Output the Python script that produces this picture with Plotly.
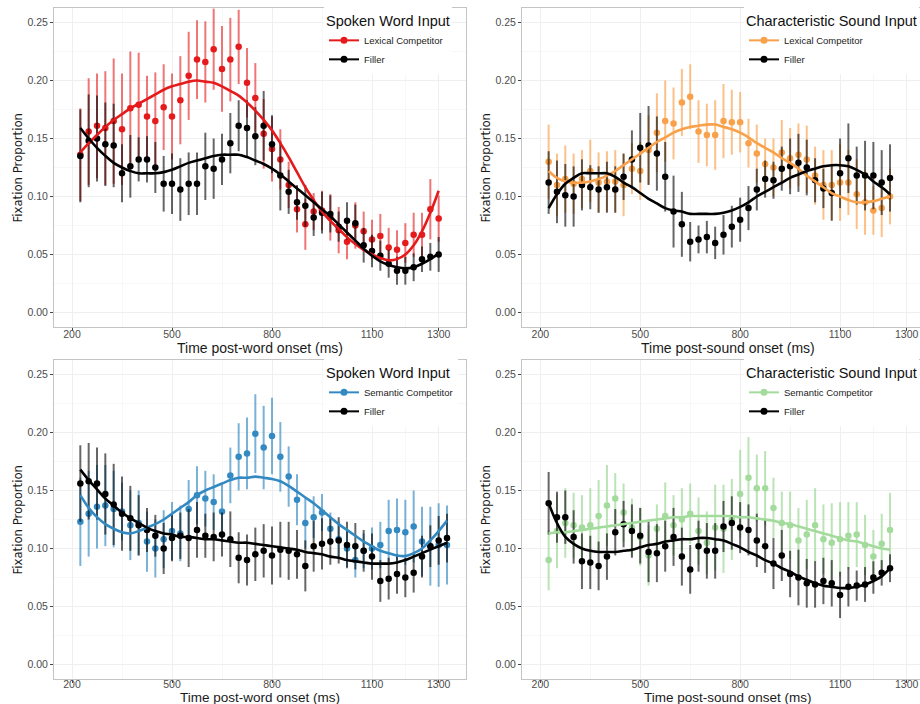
import plotly.graph_objects as go

# ---------------- data ----------------
x_word = list(range(225, 1301, 25))      # 44 time bins (panel 1)
x_word_sem = list(range(225, 1326, 25))  # 45 time bins (panel 3)
x_sound = list(range(225, 1251, 25))     # 42 time bins (panels 2, 4)

# Panel 1: Spoken word, lexical competitor vs filler
lex_word = [0.136, 0.156, 0.161, 0.159, 0.165, 0.158, 0.176, 0.179, 0.169, 0.165, 0.177, 0.169, 0.183, 0.204,
            0.218, 0.216, 0.227, 0.210, 0.218, 0.229, 0.198, 0.185, 0.154, 0.141, 0.132, 0.110, 0.089, 0.076,
            0.087, 0.088, 0.082, 0.071, 0.061, 0.075, 0.070, 0.063, 0.066, 0.056, 0.054, 0.060, 0.067, 0.067,
            0.089, 0.081]
lex_word_err = [0.040, 0.046, 0.045, 0.049, 0.054, 0.048, 0.049, 0.045, 0.035, 0.042, 0.037, 0.037, 0.038, 0.038,
                0.034, 0.035, 0.035, 0.037, 0.036, 0.032, 0.030, 0.030, 0.030, 0.028, 0.026, 0.020, 0.020, 0.022,
                0.016, 0.017, 0.020, 0.020, 0.015, 0.020, 0.017, 0.017, 0.019, 0.017, 0.017, 0.017, 0.019, 0.019,
                0.026, 0.020]
lex_word_fit = [0.138, 0.146, 0.153, 0.160, 0.166, 0.171, 0.176, 0.180, 0.184, 0.188, 0.192, 0.195, 0.197, 0.199,
                0.200, 0.199, 0.198, 0.195, 0.191, 0.187, 0.181, 0.174, 0.166, 0.157, 0.146, 0.134, 0.121, 0.108,
                0.097, 0.087, 0.079, 0.072, 0.065, 0.059, 0.054, 0.050, 0.047, 0.045, 0.046, 0.050, 0.058, 0.070,
                0.086, 0.105]
fil_word1 = [0.135, 0.148, 0.150, 0.145, 0.144, 0.120, 0.126, 0.132, 0.132, 0.125, 0.111, 0.111, 0.106, 0.111,
             0.111, 0.126, 0.124, 0.132, 0.146, 0.161, 0.159, 0.152, 0.161, 0.145, 0.118, 0.104, 0.095, 0.092,
             0.082, 0.086, 0.085, 0.074, 0.079, 0.077, 0.058, 0.053, 0.049, 0.042, 0.036, 0.036, 0.039, 0.046,
             0.048, 0.050]
fil_word1_err = [0.040, 0.040, 0.037, 0.036, 0.036, 0.025, 0.027, 0.019, 0.020, 0.022, 0.024, 0.026, 0.027, 0.027,
                 0.027, 0.029, 0.026, 0.022, 0.026, 0.022, 0.024, 0.025, 0.030, 0.025, 0.030, 0.019, 0.015, 0.018,
                 0.016, 0.018, 0.016, 0.013, 0.016, 0.016, 0.015, 0.014, 0.013, 0.012, 0.012, 0.012, 0.012, 0.011,
                 0.012, 0.015]
fil_word1_fit = [0.159, 0.150, 0.142, 0.135, 0.129, 0.125, 0.122, 0.120, 0.120, 0.120, 0.121, 0.123, 0.126, 0.129,
                 0.131, 0.133, 0.135, 0.136, 0.136, 0.136, 0.134, 0.131, 0.128, 0.124, 0.119, 0.113, 0.107, 0.101,
                 0.095, 0.089, 0.083, 0.076, 0.069, 0.062, 0.055, 0.049, 0.044, 0.041, 0.039, 0.038, 0.039, 0.042,
                 0.046, 0.051]

# Panel 2: Characteristic sound, lexical competitor vs filler
lex_sound = [0.130, 0.110, 0.115, 0.111, 0.115, 0.122, 0.112, 0.113, 0.113, 0.110, 0.124, 0.122, 0.140, 0.155,
             0.165, 0.163, 0.181, 0.186, 0.156, 0.153, 0.153, 0.165, 0.164, 0.164, 0.146, 0.137, 0.128, 0.125,
             0.138, 0.133, 0.136, 0.132, 0.118, 0.110, 0.110, 0.112, 0.112, 0.102, 0.095, 0.088, 0.090, 0.100]
lex_sound_err = [0.032, 0.027, 0.029, 0.026, 0.025, 0.027, 0.026, 0.026, 0.027, 0.027, 0.022, 0.025, 0.030, 0.034,
                 0.035, 0.031, 0.029, 0.028, 0.027, 0.027, 0.030, 0.032, 0.028, 0.026, 0.021, 0.025, 0.022, 0.025,
                 0.028, 0.026, 0.027, 0.029, 0.025, 0.030, 0.030, 0.033, 0.028, 0.030, 0.028, 0.021, 0.025, 0.024]
lex_sound_fit = [0.122, 0.116, 0.113, 0.112, 0.112, 0.113, 0.115, 0.118, 0.122, 0.127, 0.132, 0.137, 0.142, 0.147,
                 0.151, 0.155, 0.158, 0.160, 0.161, 0.162, 0.162, 0.160, 0.158, 0.155, 0.151, 0.146, 0.142, 0.138,
                 0.133, 0.129, 0.124, 0.118, 0.113, 0.108, 0.103, 0.100, 0.097, 0.095, 0.095, 0.096, 0.098, 0.100]
fil_sound1 = [0.112, 0.104, 0.101, 0.100, 0.110, 0.108, 0.106, 0.108, 0.106, 0.117, 0.132, 0.142, 0.144, 0.137,
              0.117, 0.087, 0.076, 0.061, 0.063, 0.065, 0.060, 0.067, 0.074, 0.080, 0.090, 0.106, 0.115, 0.114,
              0.124, 0.126, 0.129, 0.125, 0.114, 0.107, 0.103, 0.120, 0.133, 0.118, 0.118, 0.118, 0.112, 0.116]
fil_sound1_err = [0.027, 0.027, 0.027, 0.026, 0.022, 0.019, 0.020, 0.022, 0.020, 0.020, 0.025, 0.030, 0.034, 0.032,
                  0.030, 0.031, 0.028, 0.017, 0.012, 0.014, 0.014, 0.017, 0.018, 0.019, 0.019, 0.018, 0.016, 0.016,
                  0.019, 0.024, 0.025, 0.024, 0.019, 0.017, 0.024, 0.030, 0.030, 0.025, 0.030, 0.029, 0.028, 0.029]
fil_sound1_fit = [0.090, 0.102, 0.111, 0.116, 0.120, 0.120, 0.120, 0.120, 0.117, 0.112, 0.108, 0.103, 0.098, 0.094,
                  0.090, 0.088, 0.087, 0.085, 0.085, 0.085, 0.085, 0.086, 0.088, 0.091, 0.095, 0.100, 0.104, 0.108,
                  0.112, 0.116, 0.119, 0.122, 0.124, 0.126, 0.127, 0.127, 0.126, 0.123, 0.119, 0.113, 0.108, 0.102]

# Panel 3: Spoken word, semantic competitor vs filler
sem_word = [0.123, 0.130, 0.136, 0.137, 0.134, 0.132, 0.120, 0.122, 0.106, 0.100, 0.108, 0.115, 0.113, 0.134,
            0.146, 0.143, 0.140, 0.132, 0.163, 0.179, 0.182, 0.199, 0.187, 0.197, 0.179, 0.162, 0.142, 0.122,
            0.127, 0.131, 0.117, 0.108, 0.100, 0.090, 0.098, 0.100, 0.103, 0.115, 0.116, 0.114, 0.119, 0.106,
            0.102, 0.103, 0.103]
sem_word_err = [0.038, 0.037, 0.036, 0.035, 0.033, 0.025, 0.030, 0.028, 0.026, 0.025, 0.025, 0.025, 0.024, 0.025,
                0.025, 0.024, 0.024, 0.024, 0.024, 0.029, 0.031, 0.034, 0.036, 0.033, 0.030, 0.026, 0.022, 0.022,
                0.018, 0.016, 0.014, 0.015, 0.016, 0.015, 0.015, 0.018, 0.020, 0.027, 0.027, 0.028, 0.031, 0.030,
                0.034, 0.036, 0.034]
sem_word_fit = [0.146, 0.135, 0.127, 0.121, 0.117, 0.114, 0.113, 0.115, 0.118, 0.121, 0.125, 0.130, 0.135, 0.140,
                0.146, 0.150, 0.153, 0.156, 0.159, 0.161, 0.161, 0.162, 0.161, 0.160, 0.158, 0.154, 0.149, 0.144,
                0.139, 0.133, 0.127, 0.121, 0.116, 0.111, 0.106, 0.102, 0.098, 0.096, 0.094, 0.0935, 0.096, 0.100,
                0.107, 0.115, 0.124]
fil_word2 = [0.156, 0.158, 0.156, 0.147, 0.138, 0.130, 0.126, 0.120, 0.116, 0.111, 0.100, 0.109, 0.111, 0.109,
             0.116, 0.111, 0.110, 0.112, 0.108, 0.092, 0.090, 0.095, 0.098, 0.094, 0.099, 0.098, 0.095, 0.085,
             0.102, 0.104, 0.106, 0.107, 0.103, 0.102, 0.098, 0.093, 0.072, 0.074, 0.078, 0.075, 0.079, 0.093,
             0.102, 0.107, 0.109]
fil_word2_err = [0.033, 0.033, 0.031, 0.035, 0.035, 0.032, 0.028, 0.026, 0.019, 0.018, 0.022, 0.020, 0.020, 0.025,
                 0.024, 0.019, 0.021, 0.019, 0.024, 0.022, 0.022, 0.023, 0.023, 0.025, 0.024, 0.025, 0.021, 0.022,
                 0.022, 0.022, 0.020, 0.020, 0.020, 0.020, 0.018, 0.020, 0.018, 0.018, 0.017, 0.017, 0.017, 0.018,
                 0.018, 0.021, 0.021]
fil_word2_fit = [0.168, 0.159, 0.151, 0.143, 0.137, 0.131, 0.126, 0.122, 0.118, 0.115, 0.113, 0.112, 0.110, 0.110,
                 0.109, 0.108, 0.108, 0.107, 0.106, 0.105, 0.105, 0.104, 0.103, 0.102, 0.101, 0.100, 0.099, 0.097,
                 0.096, 0.095, 0.093, 0.092, 0.090, 0.089, 0.088, 0.087, 0.087, 0.087, 0.088, 0.090, 0.093, 0.096,
                 0.099, 0.102, 0.105]

# Panel 4: Characteristic sound, semantic competitor vs filler
sem_sound = [0.090, 0.115, 0.122, 0.120, 0.118, 0.120, 0.128, 0.137, 0.143, 0.131, 0.118, 0.110, 0.094, 0.117,
             0.128, 0.120, 0.125, 0.130, 0.115, 0.105, 0.118, 0.117, 0.125, 0.147, 0.161, 0.152, 0.152, 0.135,
             0.122, 0.120, 0.107, 0.112, 0.120, 0.108, 0.105, 0.108, 0.111, 0.112, 0.103, 0.093, 0.104, 0.116]
sem_sound_err = [0.026, 0.032, 0.030, 0.028, 0.028, 0.032, 0.031, 0.035, 0.022, 0.025, 0.025, 0.025, 0.026, 0.021,
                 0.029, 0.026, 0.027, 0.026, 0.029, 0.027, 0.037, 0.038, 0.035, 0.038, 0.035, 0.029, 0.032, 0.026,
                 0.027, 0.029, 0.028, 0.030, 0.032, 0.030, 0.034, 0.032, 0.029, 0.028, 0.026, 0.023, 0.026, 0.032]
sem_sound_fit = [0.113, 0.114, 0.114, 0.115, 0.116, 0.117, 0.118, 0.119, 0.120, 0.121, 0.122, 0.123, 0.124, 0.125,
                 0.126, 0.127, 0.127, 0.128, 0.128, 0.128, 0.128, 0.128, 0.128, 0.127, 0.127, 0.126, 0.125, 0.124,
                 0.122, 0.121, 0.119, 0.117, 0.115, 0.113, 0.111, 0.109, 0.107, 0.106, 0.104, 0.102, 0.100, 0.099]
fil_sound2 = [0.139, 0.127, 0.127, 0.110, 0.089, 0.088, 0.085, 0.093, 0.114, 0.121, 0.115, 0.111, 0.097, 0.096,
              0.102, 0.110, 0.093, 0.082, 0.102, 0.098, 0.098, 0.119, 0.122, 0.118, 0.116, 0.107, 0.102, 0.087,
              0.094, 0.078, 0.075, 0.070, 0.069, 0.072, 0.070, 0.060, 0.067, 0.068, 0.069, 0.075, 0.079, 0.083]
fil_sound2_err = [0.027, 0.022, 0.023, 0.023, 0.024, 0.023, 0.021, 0.020, 0.020, 0.020, 0.023, 0.024, 0.026, 0.025,
                  0.022, 0.025, 0.025, 0.021, 0.022, 0.024, 0.024, 0.022, 0.023, 0.022, 0.022, 0.023, 0.023, 0.022,
                  0.022, 0.020, 0.024, 0.021, 0.020, 0.020, 0.020, 0.020, 0.017, 0.013, 0.015, 0.014, 0.011, 0.012]
fil_sound2_fit = [0.139, 0.122, 0.110, 0.104, 0.100, 0.098, 0.097, 0.097, 0.097, 0.098, 0.099, 0.101, 0.103, 0.104,
                  0.106, 0.107, 0.108, 0.108, 0.109, 0.109, 0.108, 0.107, 0.104, 0.101, 0.097, 0.094, 0.090, 0.087,
                  0.083, 0.080, 0.076, 0.073, 0.070, 0.068, 0.067, 0.066, 0.066, 0.067, 0.069, 0.072, 0.076, 0.083]

x_tickvals = [200, 500, 800, 1100, 1300]
x_minor = [350, 650, 950, 1200]
y_tickvals = [0.00, 0.05, 0.10, 0.15, 0.20, 0.25]
y_ticktext = ["0.00", "0.05", "0.10", "0.15", "0.20", "0.25"]

legend_titles = ["Spoken Word Input", "Characteristic Sound Input", "Spoken Word Input", "Characteristic Sound Input"]
comp_names = ["Lexical Competitor", "Lexical Competitor", "Semantic Competitor", "Semantic Competitor"]
filler_name = "Filler"
x_titles = ["Time post-word onset (ms)", "Time post-sound onset (ms)",
            "Time post-word onset (ms)", "Time post-sound onset (ms)"]
y_title = "Fixation Proportion"

# ---------------- styling ----------------
W, H = 920, 704
FONT = "Liberation Sans, Arial, Helvetica, sans-serif"
NARROW = "Liberation Sans Narrow, Arial Narrow, DejaVu Sans Condensed, sans-serif"
comp_colors = ["#E41A1C", "#F9A04A", "#3389C2", "#A3DB9C"]
comp_err = ["rgba(228,26,28,0.6)", "rgba(249,160,74,0.65)", "rgba(51,137,194,0.65)", "rgba(163,219,156,0.75)"]
black = "#000000"
black_err = "rgba(0,0,0,0.6)"

xdom_left = [54 / W, 466 / W]
xdom_right = [522 / W, 1.0]
ydom_top = [1 - 327 / H, 1 - 8 / H]
ydom_bot = [1 - 679 / H, 1 - 360 / H]
panels = [
    dict(x=x_word, comp=lex_word, comp_err=lex_word_err, comp_fit=lex_word_fit,
         fil=fil_word1, fil_err=fil_word1_err, fil_fit=fil_word1_fit,
         xd=xdom_left, yd=ydom_top, xr=[146, 1382], xt=347.5, xs=14, so=-6, yt=17),
    dict(x=x_sound, comp=lex_sound, comp_err=lex_sound_err, comp_fit=lex_sound_fit,
         fil=fil_sound1, fil_err=fil_sound1_err, fil_fit=fil_sound1_fit,
         xd=xdom_right, yd=ydom_top, xr=[145, 1340], xt=347.5, xs=14, so=-6, yt=485),
    dict(x=x_word_sem, comp=sem_word, comp_err=sem_word_err, comp_fit=sem_word_fit,
         fil=fil_word2, fil_err=fil_word2_err, fil_fit=fil_word2_fit,
         xd=xdom_left, yd=ydom_bot, xr=[146, 1382], xt=697, xs=13.5, so=-8, yt=17),
    dict(x=x_sound, comp=sem_sound, comp_err=sem_sound_err, comp_fit=sem_sound_fit,
         fil=fil_sound2, fil_err=fil_sound2_err, fil_fit=fil_sound2_fit,
         xd=xdom_right, yd=ydom_bot, xr=[145, 1340], xt=697, xs=13.5, so=-8, yt=485),
]
legend_pos = [(324 / W, 1 - 7 / H), (744 / W, 1 - 7 / H), (324 / W, 1 - 359 / H), (744 / W, 1 - 359 / H)]

fig = go.Figure()
layout = dict(width=W, height=H, margin=dict(l=0, r=0, t=0, b=0),
              paper_bgcolor="white", plot_bgcolor="white", showlegend=True,
              font=dict(family=FONT, color="#222222"))
annotations = []

for i, p in enumerate(panels):
    n = "" if i == 0 else str(i + 1)
    xa, ya = "x" + n, "y" + n
    lg = "legend" + n
    cc = comp_colors[i]
    # points with error bars (competitor first, filler on top)
    for yy, ee, col, ecol in [(p["comp"], p["comp_err"], cc, comp_err[i]),
                              (p["fil"], p["fil_err"], black, black_err)]:
        fig.add_trace(go.Scatter(
            x=p["x"], y=yy, mode="markers", xaxis=xa, yaxis=ya, showlegend=False,
            marker=dict(size=6.5, color=col),
            error_y=dict(type="data", array=ee, symmetric=True, color=ecol, thickness=2, width=0),
            hoverinfo="skip"))
    # smooth fits
    for yy, col in [(p["comp_fit"], cc), (p["fil_fit"], black)]:
        fig.add_trace(go.Scatter(
            x=p["x"], y=yy, mode="lines", xaxis=xa, yaxis=ya, showlegend=False,
            line=dict(color=col, width=2.6, shape="spline", smoothing=1.0), hoverinfo="skip"))
    # legend entries
    for name, col in [(comp_names[i], cc), (filler_name, black)]:
        fig.add_trace(go.Scatter(
            x=[None], y=[None], mode="lines+markers", name=name, xaxis=xa, yaxis=ya, legend=lg,
            marker=dict(size=7, color=col), line=dict(color=col, width=2)))

    axis_common = dict(showline=True, mirror=True, linecolor="#C4C4C4", linewidth=1,
                       ticks="outside", ticklen=3, tickcolor="#444444", tickwidth=1,
                       tickfont=dict(family=FONT, size=10.5, color="#4D4D4D"),
                       showgrid=True, gridcolor="#EFEFEF", gridwidth=1, zeroline=False)
    layout["xaxis" + n] = dict(axis_common, domain=p["xd"], range=p["xr"], anchor=ya,
                               tickvals=x_tickvals, ticktext=[str(v) for v in x_tickvals],
                               ticklabelstandoff=p["so"],
                               minor=dict(tickvals=x_minor, showgrid=True, gridcolor="#F7F7F7", ticks=""))
    layout["yaxis" + n] = dict(axis_common, domain=p["yd"], range=[-0.0125, 0.2625], anchor=xa,
                               tickvals=y_tickvals, ticktext=y_ticktext,
                               minor=dict(tickvals=[0.025, 0.075, 0.125, 0.175, 0.225], showgrid=True,
                                          gridcolor="#F7F7F7", ticks=""))
    # axis titles
    left_px = p["xd"][0] * W
    right_px = 466 if i % 2 == 0 else 934
    annotations.append(dict(text=x_titles[i], xref="paper", yref="paper",
                            x=(left_px + right_px) / 2 / W, y=1 - p["xt"] / H,
                            xanchor="center", yanchor="middle", showarrow=False,
                            font=dict(family=FONT, size=p["xs"], color="#1A1A1A")))
    annotations.append(dict(text=y_title, xref="paper", yref="paper",
                            x=p["yt"] / W, y=sum(p["yd"]) / 2, textangle=-90,
                            xanchor="center", yanchor="middle", showarrow=False,
                            font=dict(family=NARROW, size=13, color="#1A1A1A")))
    lx, ly = legend_pos[i]
    layout[lg] = dict(x=lx, y=ly, xanchor="left", yanchor="top",
                      bgcolor="rgba(255,255,255,1)", borderwidth=0, itemwidth=30,
                      title=dict(text=legend_titles[i], font=dict(family=FONT, size=14.5, color="#111111")),
                      font=dict(family=FONT, size=9.5, color="#222222"),
                      tracegroupgap=0)

layout["annotations"] = annotations
fig.update_layout(**layout)
fig.write_html("out.html", config={"displayModeBar": False},
               post_script="document.body.style.margin='0px';")
